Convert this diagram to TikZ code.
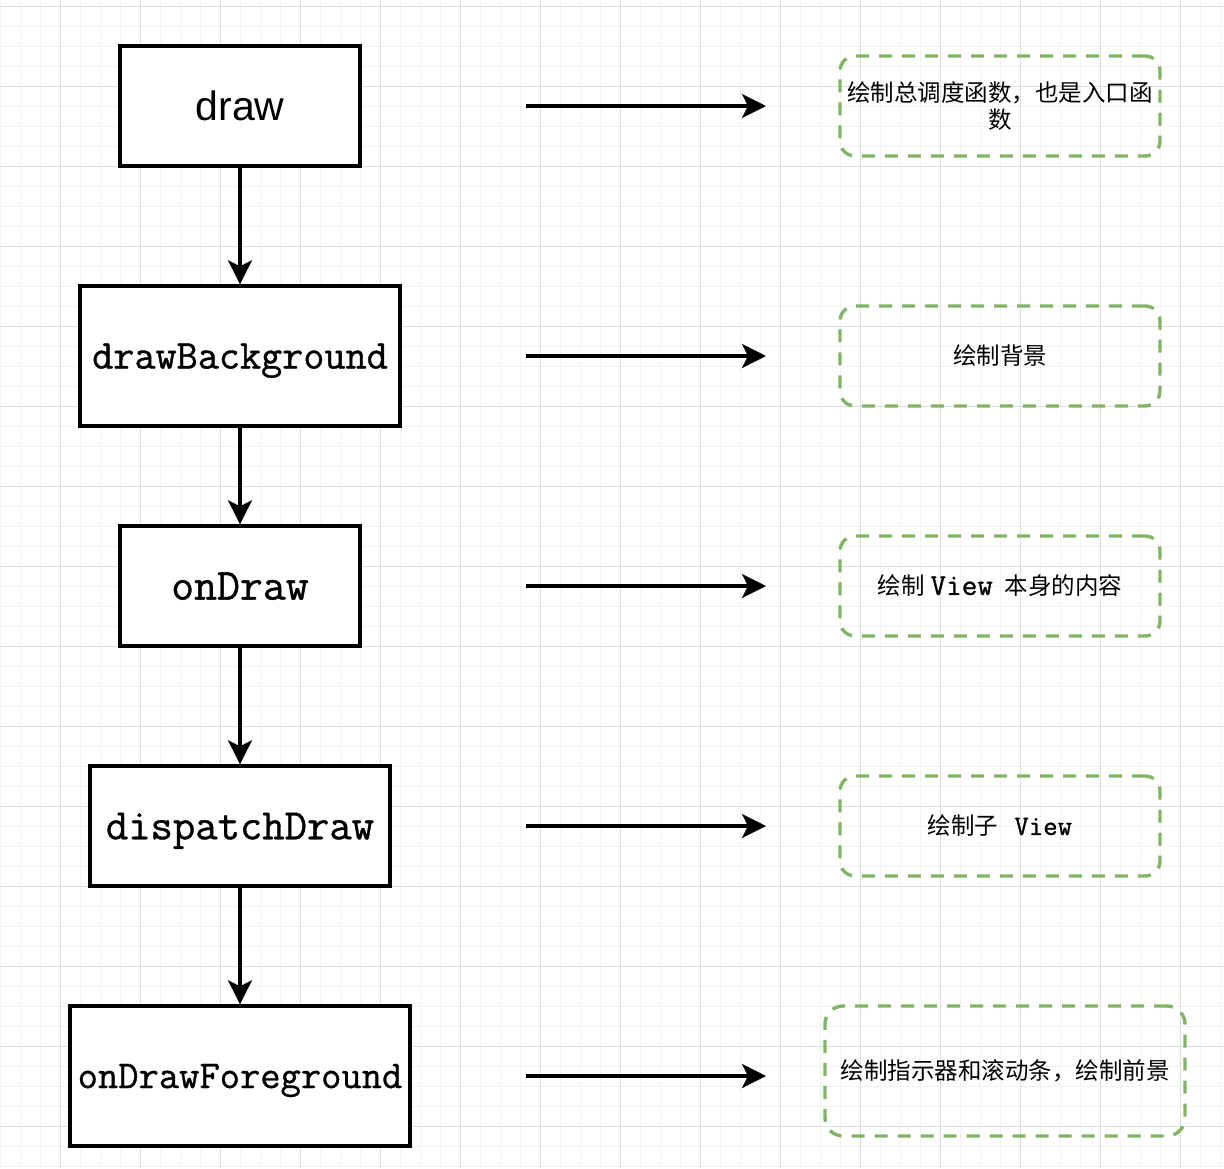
\documentclass[tikz,border=0pt]{standalone}
\usepackage{fontspec}
\setmainfont{Liberation Sans}
\newfontfamily\cjkfont{Noto Sans CJK SC}
\newfontfamily\monofont{Latin Modern Mono}[FakeBold=0.9]
\usetikzlibrary{arrows.meta}
\definecolor{dashgreen}{HTML}{82B366}
\definecolor{gridmajor}{HTML}{DEDEDE}
\definecolor{gridminor}{HTML}{F2F2F2}
\begin{document}
\begin{tikzpicture}[x=1pt,y=-1pt,
 fnbox/.style={draw, line width=3.4pt, fill=white, inner sep=0pt, text depth=0pt},
 notebox/.style={draw=dashgreen, line width=3.4pt, dash pattern=on 13pt off 10pt, rounded corners=15pt, inner sep=0pt, font=\cjkfont\fontsize{23.5}{27.5}\selectfont, align=center},
 flow/.style={line width=3.4pt, -{Stealth[length=24pt,width=24pt,inset=6pt]}},
]
\useasboundingbox (0,0) rectangle (1224,1168);
\fill[white] (0,0) rectangle (1224,1168);
% grid
\foreach \x in {0,20,...,1220} \draw[gridminor, line width=1pt] (\x,0) -- (\x,1168);
\foreach \y in {6,26,...,1166} \draw[gridminor, line width=1pt] (0,\y) -- (1224,\y);
\foreach \x in {60,140,...,1180} \draw[gridmajor, line width=1pt] (\x,0) -- (\x,1168);
\foreach \y in {6,86,...,1126} \draw[gridmajor, line width=1pt] (0,\y) -- (1224,\y);

% function boxes
\node[fnbox, minimum width=240pt, minimum height=120pt, font=\fontsize{41}{44}\selectfont] (n1) at (240,106) {draw};
\node[fnbox, minimum width=320pt, minimum height=140pt, font=\monofont\fontsize{41}{44}\selectfont] (n2) at (240,356) {drawBackground};
\node[fnbox, minimum width=240pt, minimum height=120pt, font=\monofont\fontsize{44.5}{46}\selectfont] (n3) at (240,586) {onDraw};
\node[fnbox, minimum width=300pt, minimum height=120pt, font=\monofont\fontsize{43.4}{46}\selectfont] (n4) at (240,826) {dispatchDraw};
\node[fnbox, minimum width=340pt, minimum height=140pt, font=\monofont\fontsize{39.4}{44}\selectfont] (n5) at (240,1076) {onDrawForeground};

\draw[flow] (n1) -- (n2);
\draw[flow] (n2) -- (n3);
\draw[flow] (n3) -- (n4);
\draw[flow] (n4) -- (n5);

% notes
\node[notebox, minimum width=320pt, minimum height=100pt] (m1) at (1000,106) {绘制总调度函数，也是入口函\\数};
\node[notebox, minimum width=320pt, minimum height=100pt] (m2) at (1000,356) {绘制背景};
\node[notebox, minimum width=320pt, minimum height=100pt] (m3) at (1000,586) {绘制\hspace{6pt}{\monofont\fontsize{30.3}{27.5}\selectfont View}\hspace{12pt}本身的内容};
\node[notebox, minimum width=320pt, minimum height=100pt] (m4) at (1000,826) {绘制子\hspace{16pt}{\monofont\fontsize{28}{27.5}\selectfont View}};
\node[notebox, minimum width=360pt, minimum height=130pt, rounded corners=18pt] (m5) at (1005,1071) {绘制指示器和滚动条，绘制前景};

% horizontal arrows
\foreach \i/\y in {1/106,2/356,3/586,4/826,5/1076} {
  \coordinate (h\i s) at (526,\y);
  \coordinate (h\i e) at (766,\y);
}
\draw[flow] (h1s) -- (h1e);
\draw[flow] (h2s) -- (h2e);
\draw[flow] (h3s) -- (h3e);
\draw[flow] (h4s) -- (h4e);
\draw[flow] (h5s) -- (h5e);
\end{tikzpicture}
\end{document}
